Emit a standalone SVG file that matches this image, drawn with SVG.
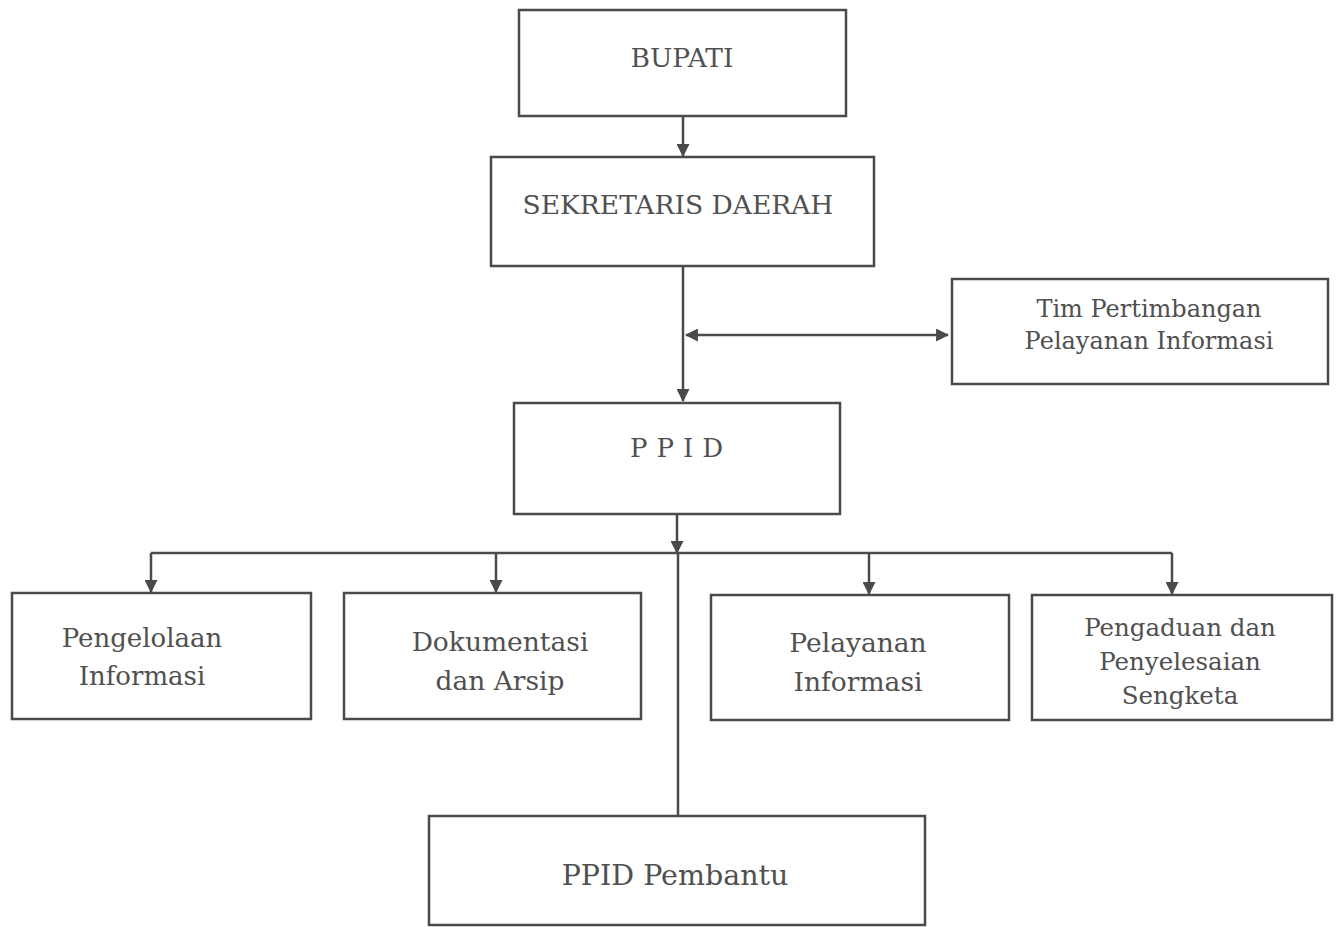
<svg xmlns="http://www.w3.org/2000/svg" width="1337" height="927" viewBox="0 0 1337 927">
<style>
.box{fill:#fff;stroke:#4a4a4a;stroke-width:2.5}
.t{font-family:"DejaVu Serif","Liberation Serif",serif;fill:#505050;text-anchor:middle}
.c{stroke:#4a4a4a;stroke-width:2.5;fill:none}
</style>
<defs>
<marker id="ah" viewBox="0 0 12 12" refX="11" refY="6" markerWidth="13" markerHeight="13" markerUnits="userSpaceOnUse" orient="auto-start-reverse">
<path d="M0,0 L12,6 L0,12 Z" fill="#4a4a4a"/>
</marker>
</defs>
<rect width="1337" height="927" fill="#fff"/>
<g id="connectors">
<line class="c" x1="683" y1="116" x2="683" y2="156" marker-end="url(#ah)"/>
<line class="c" x1="683" y1="266" x2="683" y2="401" marker-end="url(#ah)"/>
<line class="c" x1="686" y1="335" x2="948" y2="335" marker-start="url(#ah)" marker-end="url(#ah)"/>
<line class="c" x1="677" y1="514" x2="677" y2="553" marker-end="url(#ah)"/>
<line class="c" x1="151" y1="553" x2="1172" y2="553"/>
<line class="c" x1="151" y1="553" x2="151" y2="592" marker-end="url(#ah)"/>
<line class="c" x1="496" y1="553" x2="496" y2="592" marker-end="url(#ah)"/>
<line class="c" x1="869" y1="553" x2="869" y2="594" marker-end="url(#ah)"/>
<line class="c" x1="1172" y1="553" x2="1172" y2="594" marker-end="url(#ah)"/>
<line class="c" x1="678" y1="553" x2="678" y2="816"/>
</g>
<g id="bupati">
<rect class="box" x="519" y="10" width="327" height="106"/>
<text class="t" x="682" y="67" font-size="26.5">BUPATI</text>
</g>
<g id="sekda">
<rect class="box" x="491" y="157" width="383" height="109"/>
<text class="t" x="678" y="214" font-size="26.5">SEKRETARIS DAERAH</text>
</g>
<g id="tim">
<rect class="box" x="952" y="279" width="376" height="105"/>
<text class="t" x="1149" y="317" font-size="24">Tim Pertimbangan</text>
<text class="t" x="1149" y="349" font-size="24">Pelayanan Informasi</text>
</g>
<g id="ppid">
<rect class="box" x="514" y="403" width="326" height="111"/>
<text class="t" x="681" y="457" font-size="26" letter-spacing="9">PPID</text>
</g>
<g id="pengelolaan">
<rect class="box" x="12" y="593" width="299" height="126"/>
<text class="t" x="142" y="647" font-size="26">Pengelolaan</text>
<text class="t" x="142" y="685" font-size="26">Informasi</text>
</g>
<g id="dokumentasi">
<rect class="box" x="344" y="593" width="297" height="126"/>
<text class="t" x="500" y="651" font-size="26.5">Dokumentasi</text>
<text class="t" x="500" y="690" font-size="26.5">dan Arsip</text>
</g>
<g id="pelayanan">
<rect class="box" x="711" y="595" width="298" height="125"/>
<text class="t" x="858" y="652" font-size="26.5">Pelayanan</text>
<text class="t" x="858" y="691" font-size="26.5">Informasi</text>
</g>
<g id="pengaduan">
<rect class="box" x="1032" y="595" width="300" height="125"/>
<text class="t" x="1180" y="636" font-size="24.5">Pengaduan dan</text>
<text class="t" x="1180" y="670" font-size="24.5">Penyelesaian</text>
<text class="t" x="1180" y="704" font-size="24.5">Sengketa</text>
</g>
<g id="pembantu">
<rect class="box" x="429" y="816" width="496" height="109"/>
<text class="t" x="675" y="885" font-size="28.5">PPID Pembantu</text>
</g>
</svg>
